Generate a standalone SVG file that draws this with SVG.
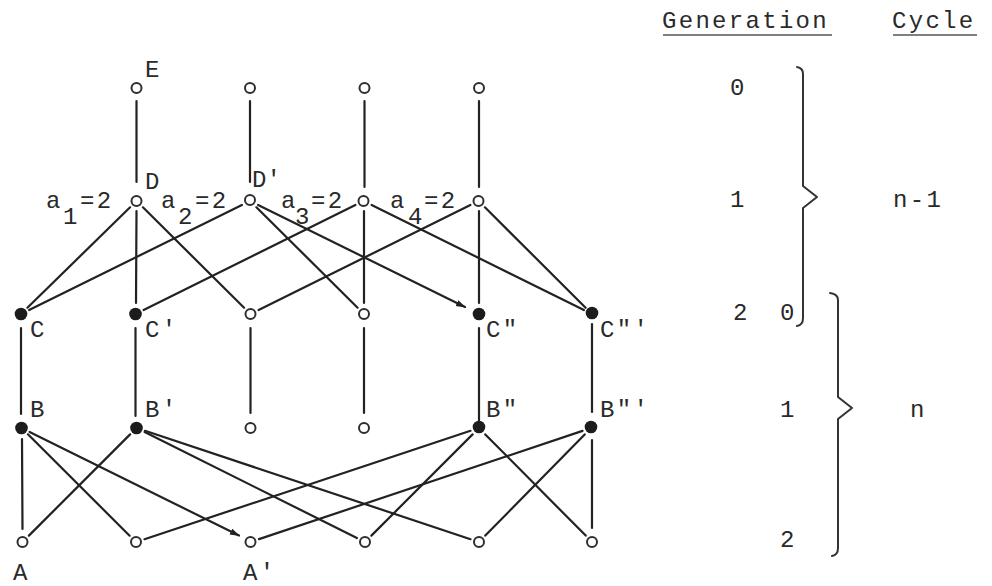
<svg xmlns="http://www.w3.org/2000/svg" width="992" height="586" viewBox="0 0 992 586">
  <defs>
    <style>
      text { font-family: "Liberation Mono", "DejaVu Sans Mono", monospace; font-size: 24px; fill: #2a2a2a; letter-spacing: 2.3px; }
      text.tight { letter-spacing: 0; }
      .edge { stroke: #222; stroke-width: 2.2; stroke-linecap: round; fill: none; }
      .open { fill: #fff; stroke: #2e2e2e; stroke-width: 2; }
      .solid { fill: #1c1c1c; }
      .brace { fill: none; stroke: #333; stroke-width: 2; stroke-linecap: round; stroke-linejoin: round; }
      .rule { stroke: #555; stroke-width: 1.6; }
    </style>
    <marker id="tip" markerWidth="10" markerHeight="8" refX="9" refY="4" orient="auto" markerUnits="userSpaceOnUse">
      <path d="M0,0.8 L10,4 L0,7.2 Z" fill="#222"/>
    </marker>
  </defs>

  <rect width="992" height="586" fill="#fff"/>

  <!-- connectors -->
  <g id="connectors">
    <!-- generation 0 to generation 1 -->
    <line class="edge" x1="136.5" y1="101" x2="136.5" y2="182"/>
    <line class="edge" x1="250" y1="101" x2="250" y2="182"/>
    <line class="edge" x1="364.5" y1="101" x2="364.5" y2="187"/>
    <line class="edge" x1="479" y1="101" x2="479" y2="187"/>

    <!-- generation 1 to generation 2 -->
    <line class="edge" x1="130.1" y1="207.3" x2="27.4" y2="307.7"/>
    <line class="edge" x1="136.5" y1="211" x2="136" y2="303"/>
    <line class="edge" x1="142.9" y1="207.3" x2="244.1" y2="307.7"/>
    <line class="edge" x1="241.9" y1="205" x2="29.1" y2="310"/>
    <line class="edge" x1="256.4" y1="207.3" x2="357.6" y2="307.7"/>
    <line class="edge" x1="258.1" y1="205" x2="465" y2="307" marker-end="url(#tip)"/>
    <line class="edge" x1="355.4" y1="205" x2="143.6" y2="310"/>
    <line class="edge" x1="364" y1="211" x2="364" y2="303"/>
    <line class="edge" x1="371.6" y1="205" x2="583.9" y2="310"/>
    <line class="edge" x1="470.4" y1="205" x2="258.6" y2="310"/>
    <line class="edge" x1="479" y1="211" x2="479" y2="303"/>
    <line class="edge" x1="484.9" y1="207.3" x2="585.6" y2="307.7"/>

    <!-- C row to B row -->
    <line class="edge" x1="21" y1="328" x2="21" y2="414"/>
    <line class="edge" x1="135.5" y1="328" x2="135.5" y2="416"/>
    <line class="edge" x1="250.5" y1="328" x2="250.5" y2="413"/>
    <line class="edge" x1="364" y1="328" x2="364" y2="413"/>
    <line class="edge" x1="479" y1="328" x2="479" y2="422"/>
    <line class="edge" x1="592" y1="324" x2="592" y2="412"/>

    <!-- B row to A row -->
    <line class="edge" x1="22" y1="439" x2="22.5" y2="529"/>
    <line class="edge" x1="27.9" y1="434.3" x2="129.6" y2="535.7"/>
    <line class="edge" x1="29.6" y1="432" x2="239" y2="535.5" marker-end="url(#tip)"/>
    <line class="edge" x1="130.1" y1="434.4" x2="28.9" y2="535.6"/>
    <line class="edge" x1="144.6" y1="432" x2="356.9" y2="538"/>
    <line class="edge" x1="145" y1="430.8" x2="470.5" y2="539.2"/>
    <line class="edge" x1="470.5" y1="430.8" x2="144.5" y2="539.2"/>
    <line class="edge" x1="472.6" y1="434.4" x2="371.4" y2="535.6"/>
    <line class="edge" x1="485.3" y1="434.4" x2="585.7" y2="535.6"/>
    <line class="edge" x1="582.5" y1="430.9" x2="259" y2="539.1"/>
    <line class="edge" x1="584.7" y1="434.4" x2="485.3" y2="535.6"/>
    <line class="edge" x1="592" y1="440" x2="592" y2="528"/>
  </g>

  <!-- generation 0 -->
  <g id="node-E"><circle class="open" cx="136.5" cy="88" r="5"/><text x="145" y="77">E</text></g>
  <g id="node-T2"><circle class="open" cx="250" cy="88" r="5"/></g>
  <g id="node-T3"><circle class="open" cx="364.5" cy="88" r="5"/></g>
  <g id="node-T4"><circle class="open" cx="479" cy="88" r="5"/></g>

  <!-- generation 1 -->
  <g id="node-D">
    <circle class="open" cx="136.5" cy="201" r="5"/>
    <text x="145" y="189">D</text>
    <text x="46" y="208">a</text><text x="63" y="224">1</text><text x="80" y="208">=2</text>
  </g>
  <g id="node-D1">
    <circle class="open" cx="250" cy="200" r="5"/>
    <text class="tight" x="252" y="187">D'</text>
    <text x="161" y="208">a</text><text x="178" y="224">2</text><text x="195" y="208">=2</text>
  </g>
  <g id="node-D3">
    <circle class="open" cx="363.5" cy="201" r="5"/>
    <text x="281" y="208">a</text><text x="295" y="224">3</text><text x="311" y="208">=2</text>
  </g>
  <g id="node-D4">
    <circle class="open" cx="478.5" cy="201" r="5"/>
    <text x="390" y="208">a</text><text x="408" y="224">4</text><text x="424" y="208">=2</text>
  </g>

  <!-- generation 2 / cycle n generation 0 -->
  <g id="node-C"><circle class="solid" cx="21" cy="314" r="6.3"/><text x="30" y="337">C</text></g>
  <g id="node-C1"><circle class="solid" cx="135.5" cy="314" r="6.3"/><text x="145" y="337">C'</text></g>
  <g id="node-C3"><circle class="open" cx="250.5" cy="314" r="5"/></g>
  <g id="node-C4"><circle class="open" cx="364" cy="314" r="5"/></g>
  <g id="node-C2"><circle class="solid" cx="479" cy="314" r="6.3"/><text x="486" y="337">C"</text></g>
  <g id="node-C3p"><circle class="solid" cx="592" cy="313" r="6.3"/><text x="600" y="337">C"'</text></g>

  <!-- B row -->
  <g id="node-B"><circle class="solid" cx="21.5" cy="428" r="6.3"/><text x="30" y="417">B</text></g>
  <g id="node-B1"><circle class="solid" cx="136.5" cy="428" r="6.3"/><text x="145" y="417">B'</text></g>
  <g id="node-B3"><circle class="open" cx="250.5" cy="428" r="5"/></g>
  <g id="node-B4"><circle class="open" cx="364" cy="428" r="5"/></g>
  <g id="node-B2"><circle class="solid" cx="479" cy="427" r="6.3"/><text x="486" y="417">B"</text></g>
  <g id="node-B3p"><circle class="solid" cx="591" cy="427" r="6.3"/><text x="600" y="417">B"'</text></g>

  <!-- A row -->
  <g id="node-A"><circle class="open" cx="22.5" cy="542" r="5"/><text x="13" y="580">A</text></g>
  <g id="node-A2"><circle class="open" cx="136" cy="542" r="5"/></g>
  <g id="node-A1"><circle class="open" cx="250.5" cy="542" r="5"/><text x="243" y="580">A'</text></g>
  <g id="node-A4"><circle class="open" cx="365" cy="542" r="5"/></g>
  <g id="node-A5"><circle class="open" cx="479" cy="542" r="5"/></g>
  <g id="node-A6"><circle class="open" cx="592" cy="542" r="5"/></g>

  <!-- generation / cycle scale -->
  <g id="scale">
    <text x="662" y="28">Generation</text>
    <line class="rule" x1="663" y1="35" x2="832" y2="35"/>
    <text x="892" y="28">Cycle</text>
    <line class="rule" x1="893" y1="35" x2="977" y2="35"/>

    <text x="730" y="95">0</text>
    <text x="730" y="207">1</text>
    <text x="733" y="320">2</text>
    <text x="780" y="320">0</text>
    <text x="780" y="417">1</text>
    <text x="780" y="547">2</text>

    <path class="brace" d="M797,67 Q803,68 803,74 L803,186 L817,197 L803,208 L803,318 Q803,325 797,326"/>
    <text x="893" y="207">n-1</text>

    <path class="brace" d="M830,293 Q838,294 838,300 L838,397 L852,408 L838,419 L838,548 Q838,555 832,556"/>
    <text x="910" y="417">n</text>
  </g>
</svg>
